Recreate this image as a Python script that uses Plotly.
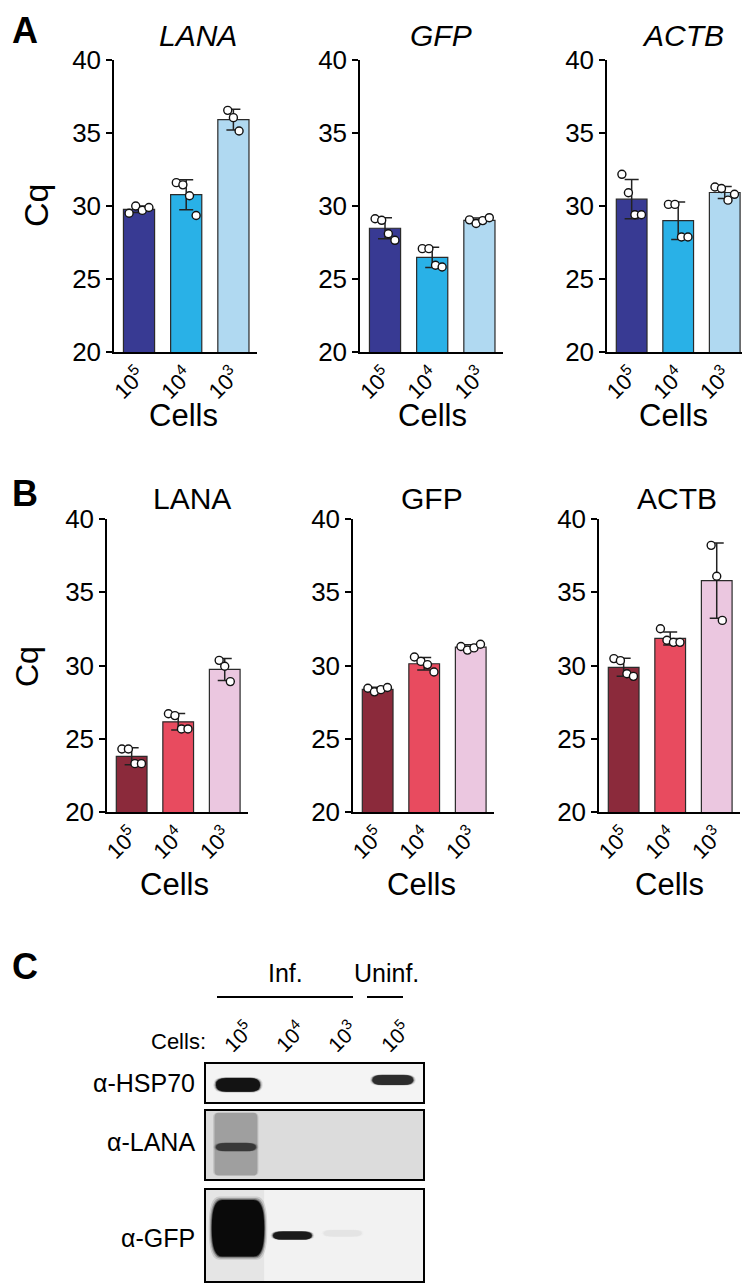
import numpy as np
import plotly.graph_objects as go

# ---------------- data ----------------
cells = ["10<sup>5</sup>", "10<sup>4</sup>", "10<sup>3</sup>"]
genes_a = ["<i>LANA</i>", "<i>GFP</i>", "<i>ACTB</i>"]
genes_b = ["LANA", "GFP", "ACTB"]

# Panel A replicate Cq values (per cell number)
a_lana = [[29.5, 30.0, 29.7, 29.9], [31.6, 31.45, 30.7, 29.35], [36.55, 36.05, 35.14]]
a_gfp = [[29.13, 29.02, 28.1, 27.65], [27.08, 27.08, 25.94, 25.82], [29.05, 28.8, 29.0, 29.2]]
a_actb = [[32.17, 30.91, 29.4, 29.4], [30.11, 30.11, 27.88, 27.88], [31.3, 31.2, 30.4, 30.8]]
# Panel B replicate Cq values
b_lana = [[24.3, 24.3, 23.3, 23.3], [26.71, 26.58, 25.67, 25.67], [30.35, 29.95, 28.9]]
b_gfp = [[28.45, 28.2, 28.35, 28.5], [30.58, 30.28, 30.06, 29.56], [31.3, 31.05, 31.2, 31.45]]
b_actb = [[30.47, 30.33, 29.44, 29.26], [32.51, 31.72, 31.58, 31.58], [38.2, 36.09, 33.08]]

y_ticks = [20, 25, 30, 35, 40]

# Panel C (western blot) relative band signal per lane
blot_rows = ["α-HSP70", "α-LANA", "α-GFP"]
blot_lanes = ["10<sup>5</sup>", "10<sup>4</sup>", "10<sup>3</sup>", "10<sup>5</sup>"]
hsp70_signal = [0.96, 0.0, 0.0, 0.85]
lana_signal = [0.8, 0.0, 0.0, 0.0]
gfp_signal = [1.0, 0.93, 0.05, 0.0]

# ---------------- style ----------------
OFF = 8                      # default page body margin
W, H = 750 - OFF, 1284 - OFF
FONT = "Arial, Liberation Sans, sans-serif"
COLORS_A = ["#383a93", "#29b1e7", "#b0d9f1"]
COLORS_B = ["#8b2a3b", "#e84b5f", "#ebc7e0"]
JITTER = {3: [-0.12, 0.0, 0.12], 4: [-0.21, -0.07, 0.07, 0.21]}


def px(x):
    return (x - OFF) / W


def py(y):
    return 1 - (y - OFF) / H


panels = [
    dict(vals=a_lana, colors=COLORS_A, x0=114, x1=257, y0=60, y1=352),
    dict(vals=a_gfp, colors=COLORS_A, x0=360, x1=503, y0=60, y1=352),
    dict(vals=a_actb, colors=COLORS_A, x0=607, x1=748, y0=60, y1=352),
    dict(vals=b_lana, colors=COLORS_B, x0=107, x1=248, y0=519, y1=812),
    dict(vals=b_gfp, colors=COLORS_B, x0=353, x1=494, y0=519, y1=812),
    dict(vals=b_actb, colors=COLORS_B, x0=599, x1=740, y0=519, y1=812),
]

fig = go.Figure()
layout = dict(
    template="none",
    width=W, height=H, autosize=False,
    margin=dict(l=0, r=0, t=0, b=0, autoexpand=False),
    paper_bgcolor="white", plot_bgcolor="rgba(0,0,0,0)",
    showlegend=False, font=dict(family=FONT, color="black"),
)

xpos = [0, 1, 2]
for k, p in enumerate(panels, start=1):
    xa = "x" if k == 1 else f"x{k}"
    ya = "y" if k == 1 else f"y{k}"
    means = [float(np.mean(v)) for v in p["vals"]]
    sds = [float(np.std(v, ddof=1)) for v in p["vals"]]
    fig.add_trace(go.Bar(
        x=xpos, y=means, width=0.66, xaxis=xa, yaxis=ya,
        marker=dict(color=p["colors"], line=dict(color="#2a2a2a", width=1.2)),
        hoverinfo="skip"))
    fig.add_trace(go.Scatter(
        x=xpos, y=means, mode="markers", xaxis=xa, yaxis=ya,
        marker=dict(size=1, color="rgba(0,0,0,0)"),
        error_y=dict(type="data", array=sds, visible=True, color="#222222",
                     thickness=1.5, width=7),
        hoverinfo="skip"))
    px_pts, py_pts = [], []
    for i, v in enumerate(p["vals"]):
        jit = JITTER[len(v)]
        for j, val in enumerate(v):
            px_pts.append(i + jit[j])
            py_pts.append(val)
    fig.add_trace(go.Scatter(
        x=px_pts, y=py_pts, mode="markers", xaxis=xa, yaxis=ya,
        marker=dict(size=8, color="white", line=dict(color="#111111", width=1.4)),
        hoverinfo="skip"))

    layout["xaxis" if k == 1 else f"xaxis{k}"] = dict(
        domain=[px(p["x0"]), min(1, px(p["x1"]))], anchor=ya, range=[-0.53, 2.5],
        tickvals=xpos, ticktext=cells, tickangle=-45, ticks="",
        tickfont=dict(size=22, family=FONT, color="black"), showline=True, linecolor="black",
        linewidth=1.5, showgrid=False, zeroline=False, fixedrange=True, automargin=False)
    layout["yaxis" if k == 1 else f"yaxis{k}"] = dict(
        domain=[py(p["y1"]), py(p["y0"])], anchor=xa, range=[20, 40],
        tickvals=y_ticks, ticks="outside", ticklen=6, tickwidth=1.5,
        tickcolor="black", tickfont=dict(size=26, family=FONT, color="black"),
        showline=True, linecolor="black", linewidth=1.5,
        showgrid=False, zeroline=False, fixedrange=True, automargin=False)

# ---------------- blot panel C ----------------
blot_boxes = [(1064, 1102), (1111, 1179), (1190, 1281)]
blot_bg = ["#f4f4f4", "#dcdcdc", "#f2f2f2"]
# per-lane band geometry: (lane offset, half width, y center, half height) in lane / local units
band_geom = [
    [(0.0, 0.42, -0.10, 0.36), (0, 0.4, 0, 0.3), (0, 0.4, 0, 0.3), (-0.04, 0.39, 0.16, 0.26)],
    [(-0.04, 0.38, -0.06, 0.12), (0, 0.4, 0, 0.2), (0, 0.4, 0, 0.2), (0, 0.4, 0, 0.2)],
    [(0.0, 0.50, 0.16, 0.62), (0.04, 0.37, 0.0, 0.09), (0.0, 0.36, 0.05, 0.07), (0, 0.4, 0, 0.1)],
]
signals = [hsp70_signal, lana_signal, gfp_signal]


def rrect(x0, x1, y0, y1, rx, ry):
    return (f"M {x0+rx},{y0} L {x1-rx},{y0} Q {x1},{y0} {x1},{y0+ry} "
            f"L {x1},{y1-ry} Q {x1},{y1} {x1-rx},{y1} L {x0+rx},{y1} "
            f"Q {x0},{y1} {x0},{y1-ry} L {x0},{y0+ry} Q {x0},{y0} {x0+rx},{y0} Z")


shapes = []
for r, (top, bot) in enumerate(blot_boxes):
    k = 7 + r
    xa, ya = f"x{k}", f"y{k}"
    layout[f"xaxis{k}"] = dict(domain=[px(206), px(423)], anchor=ya, range=[-0.612, 3.537],
                               showline=True, mirror=True, linecolor="black", linewidth=1.6,
                               showticklabels=False, ticks="", showgrid=False,
                               zeroline=False, fixedrange=True, automargin=False)
    layout[f"yaxis{k}"] = dict(domain=[py(bot), py(top)], anchor=xa, range=[-1, 1],
                               showline=True, mirror=True, linecolor="black", linewidth=1.6,
                               showticklabels=False, ticks="", showgrid=False,
                               zeroline=False, fixedrange=True, automargin=False)
    fig.add_trace(go.Scatter(x=[0], y=[0], mode="markers", xaxis=xa, yaxis=ya,
                             marker=dict(size=1, color="rgba(0,0,0,0)"), hoverinfo="skip"))
    shapes.append(dict(type="rect", xref=f"{xa} domain", yref=f"{ya} domain",
                       x0=0, x1=1, y0=0, y1=1, fillcolor=blot_bg[r], line=dict(width=0),
                       layer="below"))
    if r == 1:
        # LANA smear in lane 1
        for scale, op in [(1.06, 0.3), (1.0, 0.6)]:
            shapes.append(dict(type="path", xref=xa, yref=ya,
                               path=rrect(-0.45 * scale, 0.37 * scale, -0.9, 0.95, 0.08, 0.15),
                               fillcolor="rgb(120,120,120)", opacity=op * lana_signal[0],
                               line=dict(width=0), layer="below"))
    if r == 2:
        shapes.append(dict(type="rect", xref=xa, yref=f"{ya} domain",
                           x0=-0.612, x1=0.5, y0=0, y1=1, fillcolor="rgba(0,0,0,0.05)",
                           line=dict(width=0), layer="below"))
    for lane, sig in enumerate(signals[r]):
        if sig <= 0:
            continue
        off, hw, yc, hh = band_geom[r][lane]
        g = int(round(240 - 230 * sig))
        col = f"rgb({g},{g},{g})"
        cx = lane + off
        for scale, op in [(1.12, 0.12), (1.07, 0.25), (1.03, 0.5), (1.0, 1.0)]:
            w_, h_ = hw * scale, hh * scale
            shapes.append(dict(type="path", xref=xa, yref=ya,
                               path=rrect(cx - w_, cx + w_, yc - h_, yc + h_,
                                          min(w_, 0.2), h_ * 0.95),
                               fillcolor=col, opacity=op, line=dict(width=0),
                               layer="below"))

# Inf./Uninf. bars
shapes.append(dict(type="line", xref="paper", yref="paper", x0=px(217), x1=px(353),
                   y0=py(997), y1=py(997), line=dict(color="black", width=2.2)))
shapes.append(dict(type="line", xref="paper", yref="paper", x0=px(367), x1=px(403),
                   y0=py(997), y1=py(997), line=dict(color="black", width=2.2)))

annotations = []


def ann(text, x, y, size, angle=0, xanchor="center", yanchor="middle"):
    annotations.append(dict(text=text, x=px(x), y=py(y), xref="paper", yref="paper",
                            showarrow=False, textangle=angle, xanchor=xanchor,
                            yanchor=yanchor, font=dict(size=size, family=FONT,
                                                        color="black")))


ann("<b>A</b>", 10, 8, 36, xanchor="left", yanchor="top")
ann("<b>B</b>", 10, 493, 36, xanchor="left")
ann("<b>C</b>", 10, 967, 36, xanchor="left")
for t, x in zip(genes_a, [198, 441, 683]):
    ann(t, x, 35, 30)
for t, x in zip(genes_b, [192, 432, 677]):
    ann(t, x, 499, 30)
ann("Cq", 36, 206, 34, angle=-90)
ann("Cq", 27, 667, 32, angle=-90)
for x in [183, 432, 673]:
    ann("Cells", x, 415, 31)
for x in [174, 421, 669]:
    ann("Cells", x, 884, 31)

ann("Inf.", 285, 973, 25)
ann("Uninf.", 386, 973, 25)
ann("Cells:", 208, 1041, 22, xanchor="right")
for t, x in zip(blot_lanes, [238, 290, 342, 395]):
    ann(t, x, 1036, 21, angle=-45)
for t, y in zip(blot_rows, [1083, 1142, 1238]):
    ann(t, 197, y, 25, xanchor="right")

layout["shapes"] = shapes
layout["annotations"] = annotations
fig.update_layout(**layout)
fig.write_html("out.html")
